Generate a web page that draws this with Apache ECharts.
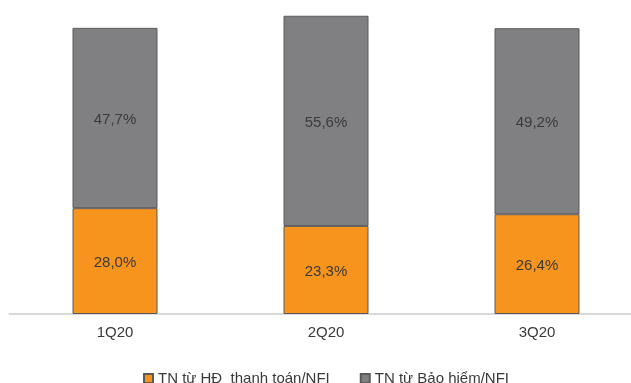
<!DOCTYPE html>
<html>
<head>
<meta charset="utf-8">
<script src="https://cdn.jsdelivr.net/npm/echarts@6/dist/echarts.min.js"></script>
<style>
  html, body { margin: 0; padding: 0; background: #ffffff; overflow: hidden; }
  #chart { width: 643px; height: 383px; }
</style>
</head>
<body>
<div id="chart"></div>
<script>
// Quarters on the x axis
const quarters = ['1Q20', '2Q20', '3Q20'];
// Share of NFI from payment services (bottom segment)
const paymentShare = [28.0, 23.3, 26.4];
// Share of NFI from insurance (top segment)
const insuranceShare = [47.7, 55.6, 49.2];
const seriesNames = ['TN từ HĐ  thanh toán/NFI', 'TN từ Bảo hiểm/NFI'];

const fmt = v => v.toFixed(1).replace('.', ',') + '%';
const font = '"Liberation Sans", Arial, sans-serif';

const labelStyle = {
  show: true,
  position: 'inside',
  offset: [0, 2],
  color: '#3a3a3a',
  fontFamily: font,
  fontSize: 15,
  formatter: p => fmt(p.value)
};

const chart = echarts.init(document.getElementById('chart'), null, { renderer: 'canvas' });
chart.setOption({
  animation: false,
  backgroundColor: '#ffffff',
  grid: { left: 9.5, top: 11.6, width: 633, height: 302.4, containLabel: false },
  xAxis: {
    type: 'category',
    data: quarters,
    axisLine: { show: true, lineStyle: { color: '#d9d9d9', width: 2 } },
    axisTick: { show: false },
    axisLabel: { color: '#3a3a3a', fontFamily: font, fontSize: 15, margin: 11 }
  },
  yAxis: {
    type: 'value',
    min: 0,
    max: 80,
    show: false,
    splitLine: { show: false }
  },
  legend: {
    left: 143,
    top: 371,
    padding: 0,
    itemWidth: 9,
    itemHeight: 9,
    itemGap: 30,
    icon: 'rect',
    textStyle: { color: '#3a3a3a', fontFamily: font, fontSize: 15 },
    data: seriesNames
  },
  series: [
    {
      name: seriesNames[0],
      type: 'bar',
      stack: 'nfi',
      barWidth: 85,
      data: paymentShare,
      itemStyle: { color: '#F7941D', borderColor: '#5b5b5e', borderWidth: 1 },
      label: labelStyle
    },
    {
      name: seriesNames[1],
      type: 'bar',
      stack: 'nfi',
      barWidth: 85,
      data: insuranceShare,
      itemStyle: { color: '#808083', borderColor: '#5b5b5e', borderWidth: 1 },
      label: labelStyle
    }
  ]
});
</script>
</body>
</html>
